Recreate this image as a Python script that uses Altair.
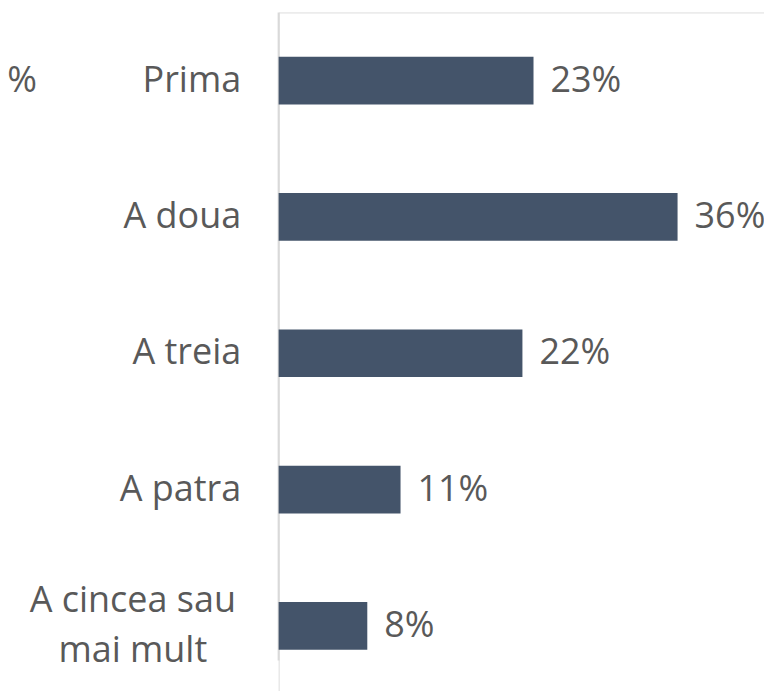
import altair as alt
import pandas as pd

categories = ["Prima", "A doua", "A treia", "A patra", "A cincea sau mai mult"]
values = [23, 36, 22, 11, 8]
labels = ["23%", "36%", "22%", "11%", "8%"]

df = pd.DataFrame({"cat": categories, "val": values, "lab": labels})

FONT = "Open Sans"
GREY = "#595959"
BAR = "#44546A"
FS = 36

y_enc = alt.Y(
    "cat:N",
    sort=categories,
    scale=alt.Scale(paddingInner=0.65, paddingOuter=0.325),
    axis=alt.Axis(
        title=None,
        domain=False,
        ticks=False,
        labelFont=FONT,
        labelFontSize=FS,
        labelColor=GREY,
        labelPadding=38,
        labelLimit=400,
        labelExpr="datum.label == 'A cincea sau mai mult' ? '' : datum.label",
    ),
)
x_enc = alt.X(
    "val:Q",
    scale=alt.Scale(domain=[0, 43.8]),
    axis=None,
)

base = alt.Chart(df)

bars = base.mark_bar(color=BAR, cornerRadius=0).encode(x=x_enc, y=y_enc)

text = base.mark_text(
    align="left", baseline="middle", dx=17, font=FONT, fontSize=FS, color=GREY
).encode(x=x_enc, y=y_enc, text="lab:N")

axis_line = alt.Chart(pd.DataFrame({"a": [0]})).mark_rule(
    color="#D9D9D9", strokeWidth=2
).encode(x=alt.value(0), y=alt.value(0), y2=alt.value(649))

last_label = alt.Chart(
    pd.DataFrame({"t": ["A cincea sau\nmai mult"], "cat": ["A cincea sau mai mult"]})
).mark_text(
    align="center", baseline="middle", lineBreak="\n", lineHeight=50, dy=-25,
    font=FONT, fontSize=FS, color=GREY
).encode(x=alt.value(-146), y=alt.Y("cat:N", sort=categories), text="t:N")

pct = alt.Chart(pd.DataFrame({"t": ["%"], "cat": ["Prima"]})).mark_text(
    align="right", baseline="middle", font=FONT, fontSize=FS, color=GREY
).encode(x=alt.value(-242), y=alt.Y("cat:N", sort=categories), text="t:N")

chart = (
    alt.layer(axis_line, bars, text, last_label, pct)
    .properties(
        width=486,
        height=682.5,
        autosize="none",
        padding={"top": 4, "left": 271, "right": 0, "bottom": 0},
    )
    .configure_view(stroke=None)
    .configure(background="white")
)

chart.save("out.html", embed_options={"renderer": "svg", "actions": False})
